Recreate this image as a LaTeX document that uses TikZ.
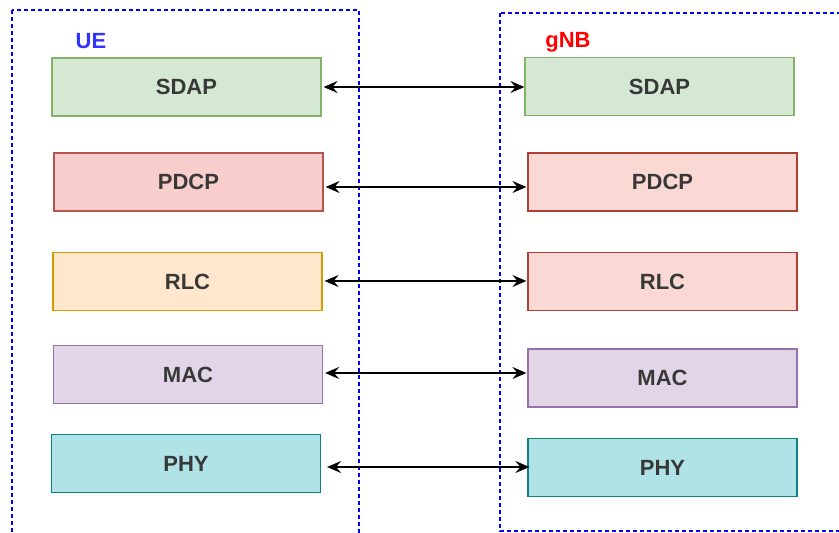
\documentclass[tikz,border=0pt]{standalone}
\usepackage{fontspec}
\setmainfont{Liberation Sans}
\usetikzlibrary{arrows.meta}
\definecolor{sdapF}{HTML}{D5E8D4}\definecolor{sdapD}{HTML}{82B366}
\definecolor{pdcpF}{HTML}{F8CECC}\definecolor{pdcpD}{HTML}{B85450}
\definecolor{pdcpRF}{HTML}{FAD9D5}\definecolor{pdcpRD}{HTML}{AE4132}
\definecolor{rlcF}{HTML}{FFE6CC}\definecolor{rlcD}{HTML}{D79B00}
\definecolor{macF}{HTML}{E1D5E7}\definecolor{macD}{HTML}{9673A6}
\definecolor{phyF}{HTML}{B0E3E6}\definecolor{phyD}{HTML}{0E8088}
\definecolor{ueblue}{HTML}{3333FF}
\definecolor{dashblue}{HTML}{0000FF}
\begin{document}
\begin{tikzpicture}[x=1pt,y=-1pt,
  layer/.style={draw, line width=1.2pt, minimum width=269pt, minimum height=58pt, inner sep=0pt,
    font=\bfseries\fontsize{22}{24}\selectfont, text=black!78},
  frame/.style={draw=dashblue, line width=1.4pt, dash pattern=on 4pt off 3pt},
  link/.style={line width=1.3pt, {Stealth[length=14pt,width=12pt,inset=5pt]}-{Stealth[length=14pt,width=12pt,inset=5pt]}}]
\useasboundingbox (0,0) rectangle (839,533);
% frames
\draw[frame] (12,10) rectangle (359,560);
\draw[frame] (500,13) rectangle (870,531);
\node[text=ueblue, font=\bfseries\fontsize{22}{24}\selectfont] (ue) at (91,41) {UE};
\node[text=red, font=\bfseries\fontsize{22}{24}\selectfont] (gnb) at (568,42) {gNB};
% left stack
\node[layer, fill=sdapF, draw=sdapD] (lsdap) at (186.5,87) {SDAP};
\node[layer, fill=pdcpF, draw=pdcpD] (lpdcp) at (188.5,182) {PDCP};
\node[layer, fill=rlcF, draw=rlcD] (lrlc) at (187.5,281.5) {RLC};
\node[layer, fill=macF, draw=macD] (lmac) at (188,374.5) {MAC};
\node[layer, fill=phyF, draw=phyD] (lphy) at (186,463.5) {PHY};
% right stack
\node[layer, fill=sdapF, draw=sdapD] (rsdap) at (659.5,86.5) {SDAP};
\node[layer, fill=pdcpRF, draw=pdcpRD] (rpdcp) at (662.5,182) {PDCP};
\node[layer, fill=pdcpRF, draw=pdcpRD] (rrlc) at (662.5,281.5) {RLC};
\node[layer, fill=macF, draw=macD] (rmac) at (662.5,378) {MAC};
\node[layer, fill=phyF, draw=phyD] (rphy) at (662.5,467.5) {PHY};
% links
\draw[link] ([xshift=2pt]lsdap.east |- 0,87) -- (rsdap.west |- 0,87);
\draw[link] ([xshift=2pt]lpdcp.east |- 0,187) -- ([xshift=-1pt]rpdcp.west |- 0,187);
\draw[link] ([xshift=2pt]lrlc.east |- 0,281) -- ([xshift=-1pt]rrlc.west |- 0,281);
\draw[link] ([xshift=2pt]lmac.east |- 0,373) -- ([xshift=-1pt]rmac.west |- 0,373);
\draw[link] ([xshift=6pt]lphy.east |- 0,467) -- ([xshift=2pt]rphy.west |- 0,467);
\end{tikzpicture}
\end{document}
